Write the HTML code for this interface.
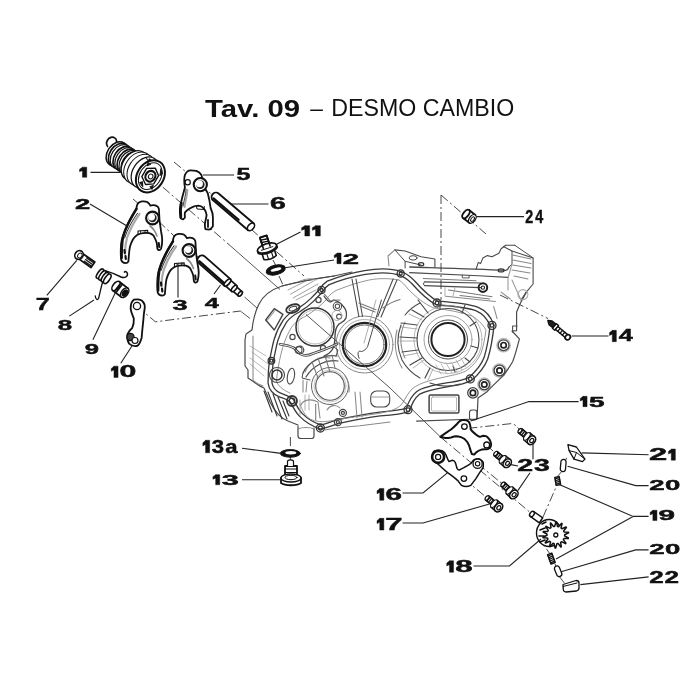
<!DOCTYPE html>
<html><head><meta charset="utf-8"><style>
html,body{margin:0;padding:0;background:#fff;}
svg{display:block;filter:blur(0.35px);}
</style></head><body>
<svg width="700" height="700" viewBox="0 0 700 700">
<rect width="700" height="700" fill="#fff"/>
<g id="crank">
<g fill="none" stroke="#4a4a4a" stroke-width="1.05" stroke-linejoin="round" stroke-linecap="round">
<!-- outer silhouette -->
<path d="M334 276 C315 279 298 282 282 286 C270 290 263 296 259 304 C255 312 253 320 252 330 L246 334 L245 340 L245 366 L248 370 L248 378 L254 382 C258 385 261 387 264 388 L270 402 C274 410 280 418 288 421 L298 425" stroke-width="1.2"/>
<path d="M298 426 L298 436 C298 437.5 299 438.5 301 438.5 L311.5 438.5 C313 438.5 314 437.5 314 436 L314 428" stroke-width="1.2"/>
<path d="M298 429 C302 427 310 427 314 429" stroke="#888"/>
<path d="M253 336 L253 380 C256 383 259 385 263 386" stroke="#888"/>
<path d="M334 276 L352 272"/>
<!-- gasket band -->
<path d="M400.7 273.5 C392 270.5 380 270 365 272.5 C352 274.5 338 279 328 283 C325 285 323 287 321.5 290 C318 294 315 297 312 300 C308 304 304 307 299 310 C293 313 288 317 285 321 C281 327 278 333 276 340 C274 347 273 354 271.4 360.7 C270.5 367 270 375 270 383 C271 389 275 393 280 395 C285 397 289 398 292 401 C294 405 297 411 301 415 C306 420 312 424 320.4 427 C327 426 333 423 338.6 421.4 C350 419 365 416 380 414 C392 413 402 412 408 409.7 C410 403 413 397 418 393 C425 388 440 386 452 384 C460 383 466 381 470.3 378.9 C477 373 483 366 486 358 C489 348 491 336 492 325.4 C489 317 484 312 477 309 C466 305 451 304 437 303 C429 299 421 291 413 282 C409 278 405 275 400.7 273.5 Z" stroke="#3a3a3a" stroke-width="5.2"/>
<path d="M400.7 273.5 C392 270.5 380 270 365 272.5 C352 274.5 338 279 328 283 C325 285 323 287 321.5 290 C318 294 315 297 312 300 C308 304 304 307 299 310 C293 313 288 317 285 321 C281 327 278 333 276 340 C274 347 273 354 271.4 360.7 C270.5 367 270 375 270 383 C271 389 275 393 280 395 C285 397 289 398 292 401 C294 405 297 411 301 415 C306 420 312 424 320.4 427 C327 426 333 423 338.6 421.4 C350 419 365 416 380 414 C392 413 402 412 408 409.7 C410 403 413 397 418 393 C425 388 440 386 452 384 C460 383 466 381 470.3 378.9 C477 373 483 366 486 358 C489 348 491 336 492 325.4 C489 317 484 312 477 309 C466 305 451 304 437 303 C429 299 421 291 413 282 C409 278 405 275 400.7 273.5 Z" stroke="#fff" stroke-width="2.6"/>
<!-- inner flange line -->
<path d="M399 280 C388 278 376 278 365 281 C352 284 343 288 337 290 C331 293 328 297 325 301 C320 306 314 311 306 316 C298 320 293 324 290 330 C286 337 283 345 281 354 C279 362 277 373 276.5 382 C280 388 285 391 290 393 M300 404 C302 410 305 416 310 419 C316 422 323 422 330 421 C345 418 362 416 375 414 C389 412 397 409 401 405 C405 400 407 394 412 389 C420 382 436 379 449 376 C459 374 464 372 466 371 C473 366 478 360 481 353 C484 345 485 336 486 330 C482 323 477 319 472 316 C461 312 448 310 434 308 C424 304 416 297 408 289 C405 285 402 282 399 280" stroke="#888" stroke-width="0.9"/>
<!-- bolt bosses on gasket -->
<g stroke-width="1.3" stroke="#333">
<circle cx="321.5" cy="290" r="3.6"/><circle cx="321.5" cy="290" r="1.5"/>
<circle cx="400.7" cy="273.5" r="3.6"/><circle cx="400.7" cy="273.5" r="1.5"/>
<circle cx="437" cy="303" r="4"/><circle cx="437" cy="303" r="1.8"/>
<circle cx="492" cy="325.4" r="4"/><circle cx="492" cy="325.4" r="1.8"/>
<circle cx="470.3" cy="378.9" r="4"/><circle cx="470.3" cy="378.9" r="1.8"/>
<circle cx="408" cy="409.7" r="4"/><circle cx="408" cy="409.7" r="1.8"/>
<circle cx="320.4" cy="428" r="4"/><circle cx="320.4" cy="428" r="2"/>
<circle cx="292" cy="401" r="5" stroke-width="1.8"/><circle cx="292" cy="401" r="2.8"/>
<circle cx="271.4" cy="360.7" r="3.3"/><circle cx="271.4" cy="360.7" r="1.5"/>
</g>
<!-- right bolt bosses -->
<g stroke-width="1.3" stroke="#444">
<circle cx="503.6" cy="345.2" r="6.6" stroke="#bbb" stroke-width="1.5"/><circle cx="503.6" cy="345.2" r="5.4"/><circle cx="503.6" cy="345.2" r="2.7" stroke="#222" stroke-width="1.7"/>
<circle cx="499.5" cy="370.5" r="6.6" stroke="#bbb" stroke-width="1.5"/><circle cx="499.5" cy="370.5" r="5.4"/><circle cx="499.5" cy="370.5" r="2.7" stroke="#222" stroke-width="1.7"/>
<circle cx="484.3" cy="384.5" r="6.4" stroke="#bbb" stroke-width="1.5"/><circle cx="484.3" cy="384.5" r="5.2"/><circle cx="484.3" cy="384.5" r="2.7" stroke="#222" stroke-width="1.7"/>
<circle cx="472.9" cy="392.9" r="5.2"/><circle cx="472.9" cy="392.9" r="2.7" stroke="#222" stroke-width="1.7"/>
<circle cx="342.9" cy="412.9" r="3.5"/><circle cx="342.9" cy="412.9" r="1.5"/>
<circle cx="337.9" cy="422.1" r="3.5"/><circle cx="337.9" cy="422.1" r="1.5"/>
</g>
<!-- right outer edge -->
<path d="M526.3 292.1 L520 304 L516.6 312 L516.6 330.6 L512 331 L519.4 338.9 C517 348 515 356 512.6 361.7 C509 368 506 372 503.4 375.4 C497 382 492 386 487.4 391.4 L478 398 L477 419 L416.6 421.1" stroke-width="1.2"/>
<path d="M512.6 332 L512.6 326 L517 326" />
<path d="M497.1 318.6 L493.7 306.6 M445.7 296.3 L495.4 301.4" stroke="#888"/>
<!-- upper rail & blocks -->
<path d="M394.9 249.9 L405.1 251 L421.1 256.7 L434.9 259 L434.9 267" stroke-width="1.1"/>
<path d="M394.9 249.9 L405.1 261.3 L405.1 268 M405.1 261.3 L421 265" stroke-width="1"/>
<path d="M394.9 249.9 L388 256 L389 266" stroke="#888"/>
<ellipse cx="413.1" cy="257.9" rx="4" ry="2.2" stroke-width="1"/>
<ellipse cx="421.1" cy="264.2" rx="2.6" ry="1.6" stroke="#333" stroke-width="1.3"/>
<path d="M409.7 267 C440 268 475 269 505.7 270.4 C507.5 270 508.5 268.5 509 267" stroke-width="1.3"/>
<path d="M409.7 272.7 C440 274 475 275.5 508 277.3" stroke-width="1.2"/>
<path d="M462.3 275 L462.3 277.8 L469.1 278 L469.1 275.5" stroke-width="0.9"/>
<ellipse cx="501.1" cy="270.4" rx="3" ry="1.5" stroke="#333" stroke-width="1.2"/>
<path d="M476 269.3 L478.3 262.4 L480.6 263.6 L482.9 257.9 L487.4 255.6 L492 256.7 L498.9 253.3 L501.1 248.7 L505.7 245.3 L514.9 245.3" stroke-width="1.1"/>
<path d="M503.4 246.4 L512 251 L533.1 257.9 L533.1 284 L526.3 292.1 L521 300" stroke-width="1.1"/>
<path d="M514.9 245.3 L533.1 257.9" stroke-width="1"/>
<path d="M512 251 L512 264 L509 267" stroke-width="1"/>
<path d="M512.6 255 L531 259 M512.6 260.1 L531 263.6 M512.6 265 L531 268 M512 270 L530 273 M514 276 L528 279" stroke="#888"/>
<path d="M512 264 L508 278 L508 290 M512 280 L521 300" stroke="#999"/>
<circle cx="522.9" cy="294.6" r="5" stroke="#aaa"/>
<!-- pipe along rail -->
<path d="M423.4 278.4 L476 280.7" stroke="#777"/>
<path d="M424.6 281.9 L480.6 283 M424.6 285.6 L480.6 287.6" stroke-width="1.2"/>
<path d="M424.6 281.9 C423 283 423 285 424.6 285.6" stroke-width="1"/>
<circle cx="482.9" cy="287.6" r="4.3" stroke="#222" stroke-width="2"/><circle cx="482.9" cy="287.6" r="1.7" stroke="#222"/>
<path d="M448.6 289.9 L492 296.7 M460 295.6 L489.7 299" stroke="#777"/>
<path d="M501.1 292.1 L510.3 299" stroke="#888"/>
<path d="M445 287 L445 296 M455 288 L453 296" stroke="#999" stroke-width="0.8"/>
<!-- left bore -->
<circle cx="315" cy="327" r="19" stroke-width="1.5" stroke="#333"/>
<circle cx="315" cy="327" r="17" stroke-width="0.7" stroke="#999"/>
<path d="M324 296 C326 299 327 301 330 302 C332 302 333 300 334 300 C337 301 341 303 343 306 C346 309 347 314 346 318 C345 321 342 322 339 324 C336 327 335 332 335 336 C335 342 334 347 332 350 C330 353 327 355 324 356" stroke-width="1.3" stroke="#444"/>
<circle cx="300" cy="350" r="3.8" stroke-width="1.2"/>
<circle cx="292.5" cy="337" r="2.6" stroke-width="1.2"/><circle cx="318.5" cy="300" r="2.6" stroke-width="1.2"/><circle cx="323" cy="348" r="2.6" stroke-width="1.2"/>
<circle cx="337.4" cy="306.3" r="4.2"/><circle cx="337.4" cy="306.3" r="2.2"/><circle cx="339.1" cy="316.6" r="2.5"/>
<circle cx="336.9" cy="315.4" r="5" stroke="#999" stroke-width="0.8"/>
<path d="M324.6 294.3 C328 298 331 302 329.7 301.1 C333 300 336 300 340 300" stroke="#777"/>
<ellipse cx="292.9" cy="308.6" rx="7" ry="4" transform="rotate(-20 292.9 308.6)" stroke-width="1.8" stroke="#333"/>
<ellipse cx="292.9" cy="308.6" rx="4" ry="2" transform="rotate(-20 292.9 308.6)"/>
<!-- window left -->
<path d="M265.7 320 L274.3 308.6 L282.9 314.3 L274.3 330 Z" stroke-width="1.4" stroke="#444"/>
<path d="M267.5 320 L275 310.5" stroke="#999"/>
<!-- middle bearing -->
<circle cx="364.5" cy="344.5" r="28.5" stroke-width="1" stroke="#888"/>
<circle cx="364.5" cy="344.5" r="25" stroke-width="0.8" stroke="#999"/>
<circle cx="364.5" cy="344.5" r="21.7" stroke-width="2.2" stroke="#222"/>
<circle cx="364.5" cy="344.5" r="19.5" stroke-width="0.8"/>
<path d="M381.4 300 L367.7 346.3 C366 350 362 352 360.9 351.4 C358 350 357 354 359.1 358.3" stroke-width="1"/>
<path d="M376 300 L364 343" stroke="#999" stroke-width="0.8"/>
<!-- ribs between -->
<path d="M352 279 L358.9 316.6 M356 279 L362.5 316.5" stroke-width="1.1"/>
<path d="M393.1 279 L377.7 316.6 M397 280 L381 317" stroke-width="1.1"/>
<path d="M358.9 302.9 L376 309.7 M360 306 L375 312" stroke="#777"/>
<path d="M382.9 308 C388 304 394 301 400 299.4" stroke="#777"/>
<!-- big bearing -->
<circle cx="448" cy="339.5" r="16.6" stroke-width="2" stroke="#222"/>
<circle cx="448" cy="339.5" r="19.5" stroke-width="1"/>
<circle cx="448" cy="339.5" r="24" stroke-width="0.8" stroke="#888"/>
<circle cx="448" cy="339.5" r="31" stroke-width="1.1"/>
<circle cx="448" cy="339.5" r="34" stroke-width="0.7" stroke="#999"/>
<path d="M405 315 A46 46 0 0 1 420 303 M401 325 A46 46 0 0 0 402 360 A46 46 0 0 0 420 378 M430 383 A46 46 0 0 0 460 384" stroke-width="1.1"/>
<path d="M405 322 A43 43 0 0 0 405 358 M397 330 A52 52 0 0 0 402 368" stroke="#888"/>
<path d="M401 323 L417 325 M400 337 L417 338 M402 352 L418 350 M410 365 L422 358 M425 378 L430 368 M412 310 L424 317 M418 300 L428 313" stroke-width="1.2"/>
<path d="M401 327 L417 329 M400 341 L417 341 M403 356 L418 353 M413 368 L424 360 M428 380 L433 369 M409 314 L422 320" stroke="#999" stroke-width="0.8"/>
<path d="M440 300 L440 309 M465 305 L462 313 M476 322 L470 326 M478 348 L471 346 M470 362 L465 358 M455 372 L453 366" stroke-width="1.1"/>
<path d="M441 364 L447 374 M446 363 L452 373 M451 362 L457 372 M456 360 L462 370 M461 358 L466 367 M436 365 L441 374" stroke="#aaa" stroke-width="0.8"/>
<!-- lower left bore -->
<circle cx="330" cy="386" r="18.5" stroke-width="1" stroke="#666"/>
<circle cx="330" cy="386" r="14.3" stroke-width="1.1" stroke="#555"/>
<circle cx="330" cy="386" r="16" stroke-width="0.7" stroke="#aaa"/>
<path d="M305 372 C310 360 320 356 330 358 M345 376 C348 380 350 385 349 392" stroke="#888"/>
<circle cx="277" cy="375" r="5" stroke-width="1.5" stroke="#333"/><circle cx="277" cy="375" r="7.5" stroke-width="1.1"/>
<ellipse cx="291" cy="376" rx="3.5" ry="8" stroke-width="1.1" transform="rotate(10 290 375.7)"/>
<!-- detent mechanism -->
<path d="M280 344.3 C285 345 290 346 294 348 C297 351 299 354 303 355 C307 356 310 355 313 353.5 C318 352 323 350 328 348 C332 346.5 335 345 337 344" stroke-width="2.6" stroke="#444"/>
<path d="M280 344.3 C285 345 290 346 294 348 C297 351 299 354 303 355 C307 356 310 355 313 353.5 C318 352 323 350 328 348 C332 346.5 335 345 337 344" stroke-width="0.9" stroke="#fff"/>
<circle cx="298.6" cy="350" r="3.4" stroke-width="1.1"/>
<path d="M303 373 C305 368 310 363 316 360 C322 357 330 355 337 356 M306 377 C309 372 314 367 320 364 C326 361 332 360 338 361" stroke-width="1.2"/>
<path d="M312 362 L318 378 M318 358 L324 376 M325 356 L330 372 M332 355 L335 368" stroke="#777"/>
<path d="M303 373 L302 378 L310 380 M336 356 L338 350 L334 347" stroke-width="1"/>
<path d="M303 380 L303 392 M307 381 L306 392" stroke="#888"/>
<path d="M305 395 L305 410 M309 395 L309 410 M300 400 L300 415" stroke="#999" stroke-width="0.8"/>
<path d="M301 405 C303 400 310 398 318 402 L320 418" stroke="#888"/>
<rect x="370.7" y="391" width="19" height="16" rx="6" stroke-width="1.1"/>
<path d="M372 397 L389 397" stroke="#999"/>
<path d="M355 392 L357 418 M360 392 L362 417" stroke="#888"/>
<path d="M315.7 404.3 L315.7 420" stroke="#777"/>
<path d="M327 410 C330 405 336 404 340 408" stroke="#888"/>
<!-- hatching lower-left -->
<path d="M264 391 L272 412 M268 392 L277 416 M273 394 L282 419 M278 397 L287 419 M283 401 L289 416" stroke="#333" stroke-width="1.1"/>
<path d="M252 352 L268 364 M250 358 L266 370 M250 364 L264 376 M250 346 L266 356" stroke="#999" stroke-width="0.7"/>

<!-- rectangle window lower right -->
<rect x="429.1" y="394.9" width="29.8" height="18.2" rx="1.5" stroke-width="1.5" stroke="#444"/>
<rect x="431.5" y="397" width="25" height="14" rx="1" stroke="#999" stroke-width="0.7"/>
<rect x="469.5" y="410" width="7.5" height="10" rx="2.5" stroke-width="1.1"/>
<!-- bottom edge -->
<path d="M324.3 430 C335 428 345 427 360 425.7 L390 422" stroke="#888"/>
<!-- top left fins -->
<path d="M282 286 C300 281 318 278 334 276" stroke-width="1.1"/>
<path d="M290.3 294.3 L314.3 280.6 M293 298 L318 284 M288 290 L306 281 M296 300 L316 290" stroke="#888" stroke-width="0.8"/>
<path d="M300 281 C305 279 312 278 316 280" stroke="#999"/>
</g>

</g>
<g id="dash" fill="none" stroke="#333" stroke-width="0.9" stroke-dasharray="9 3 2 3">
<path d="
M441 195 V300
M441 195 L486 234
M137 306.3 L155.4 321.8 L240.4 311
M174 162 L186 172 M200 184 L304 276
M150 176 L230 245.5
M133 199 L154 217 L189 250 L201 259
M290.4 437 V449 M290.4 457 V461
M500 295 L548 318.5
M468.4 428.3 L511.4 423.6 Q515.7 424 520 430.7
M486.7 444.9 L496 454
M477.6 463.7 L503 484.3
M463.9 478.6 L487 497.9
M440.4 436.9 L532 514
M543 517 L557 485
M546.4 548.8 L550 554
M557 477 L563 470
M563 466 L568 455
M555 564 L557 568
M559 576 L565 584
M273 260 L276 266 M279 276 L283 285
"/>
</g>
<g id="parts">
<g fill="#fff" stroke="#111" stroke-width="1.8" stroke-linejoin="round" stroke-linecap="round">
<!-- PART 1 drum -->
<g transform="translate(150,176) rotate(33.7)">
  <ellipse cx="-50.5" cy="-6.5" rx="4.8" ry="5.6" stroke-width="1.7"/>
  <path d="M-51 -2 L-40 -4 L-40 4 L-51 2 Z" stroke="none"/>
  <ellipse cx="-40" cy="0" rx="9.4" ry="13" stroke-width="1.5"/>
  <ellipse cx="-37.5" cy="0" rx="9.2" ry="12.8" stroke-width="1.7"/>
  <ellipse cx="-35" cy="0" rx="9.4" ry="13" stroke-width="1.2"/>
  <ellipse cx="-32" cy="0" rx="9.2" ry="12.8" stroke-width="1.7"/>
  <ellipse cx="-29.5" cy="0" rx="9.4" ry="13" stroke-width="1.2"/>
  <ellipse cx="-27" cy="0" rx="9.2" ry="12.8" stroke-width="1.7"/>
  <ellipse cx="-24.5" cy="0" rx="9.4" ry="13" stroke-width="1.2"/>
  <ellipse cx="-22" cy="0" rx="9.2" ry="12.8" stroke-width="1.7"/>
  <ellipse cx="-19" cy="0" rx="11.5" ry="16" stroke-width="1.4"/>
  <ellipse cx="-15" cy="0" rx="12.2" ry="17" stroke-width="1.0"/>
  <ellipse cx="-11" cy="0" rx="12.2" ry="17" stroke-width="1.0"/>
  <ellipse cx="-6" cy="0" rx="12.2" ry="17" stroke-width="1.2"/>
  <path d="M-13 -13 l2 1 m1 -2 l0 5 m2 -5 l0 5 M-9 -14 l0 4" stroke-width="1" fill="none"/>
  <ellipse cx="0.5" cy="0" rx="13.2" ry="17.2" stroke-width="2"/>
  <ellipse cx="0.3" cy="0" rx="10.5" ry="14.5" stroke-width="1"/>
  <path d="M0 -9.5 L7 -5 L7.5 4.5 L1 9.5 L-6.5 5 L-7 -4.5 Z" stroke-width="1.4"/>
  <ellipse cx="0.5" cy="0" rx="4.8" ry="5.5" stroke-width="2.2"/>
  <ellipse cx="0.8" cy="0" rx="2.2" ry="2.5" stroke-width="1"/>
  <path d="M5 -12 L9 -9 L8 -6 Z M-5 11 L0 13 L-3 9 Z M6 9 L9 10 L8 6 Z M-8 -7 L-9 -10 L-6 -10 Z" fill="#222" stroke-width="1"/>
</g>
<!-- FORK 2 -->
<g id="fork2">
<path d="M125.7 263.1 C123.5 263 122 262.5 121.2 260 C120.7 256 120.7 250 121 245.4 C121.5 240 122.3 237 123.6 234.7 C125 230 126.5 227 127.9 224 C129.8 220 131.5 217 133.2 214.3 C134.5 212 135.5 210.5 136.4 208.9 C136.5 206.5 137 205 137.5 204.1 C138.5 202.5 140 201.6 141.8 201.4 C144 201.2 146 201.4 147.2 202 C148.5 202.8 149.6 204 150.4 205.7 C151.5 205.3 152.5 205.1 153.6 205.2 C155.5 205.4 157 206 157.9 206.8 C158.8 208 159.2 209.5 159 211.1 L159.5 220 C160 224 160.6 228 161.1 231.5 C161.8 235 162.2 237.5 162.2 240 C162.2 243 161.8 246 161.1 248.6 C160.5 249.8 159.8 250.3 159 250.2 C158.2 250 157.7 249.4 157.4 248.6 C157.1 246.5 157 244.8 156.8 243.2 C156.5 242 156.1 241 155.7 240 C155 238.3 154.3 236.8 153.6 235.7 C152.3 234.3 150.8 233.5 149.3 233.1 C147 232.8 145 232.8 142.9 233.1 C141 233.4 139.2 233.9 137.5 234.7 C135.8 235.8 134.3 237.3 133.2 239 C131.8 241.3 130.8 243.8 130 246.5 C129.4 249.5 129.1 252.3 128.9 255 C128.7 257.5 128.6 259.5 128.4 261.5 C127.7 262.6 126.8 263.1 125.7 263.1 Z"/>
<path d="M136.4 208.9 C134.5 212 132 216 129.5 221 C127 226 124.5 231 123.3 236 C122 241 121.5 248 121.6 258" fill="none" stroke-width="2.6"/>
<path d="M139.5 214 C134.5 221 130 229 127 238 C125.5 243 125 249 125 254" fill="none" stroke-width="2.2" stroke="#aaa"/>
<path d="M137.5 213.2 C132 221 127.5 229 124.6 237.9" fill="none" stroke-width="0.9"/>
<path d="M150 226 C153 228 155.5 232 157 236" fill="none" stroke-width="1.6" stroke="#888"/>
<path d="M138 234.4 L138 231 L147.7 230.4 L147.7 233.3" fill="none" stroke-width="1.1"/>
<path d="M140.5 231 L140.5 233.6 M145 230.8 L145 233.2" fill="none" stroke-width="0.8"/>
<circle cx="152.5" cy="218" r="6.4" stroke-width="2.1"/>
<circle cx="152.5" cy="218" r="4.2" fill="#222" stroke="none"/>
<circle cx="151.6" cy="217.1" r="3.4" fill="#fff" stroke="none"/>
<path d="M124.5 250 L124.8 253 M125.5 256 L125.8 259" stroke-width="2.2" fill="none"/>
<path d="M158.8 243 L159.2 247" stroke-width="2" fill="none"/>
</g>
<!-- FORK 3 -->
<use href="#fork2" transform="translate(36.5,32.5)"/>
<!-- FORK 5 -->
<path d="M183.1 219.4 C181 219 180 218 180.3 217.1 C179.6 212 179.5 206 181.4 201.1 C182.5 196 184 191 184.9 187.4 C184 182 184 178 184.9 174.9 C186.5 171.5 188 170.3 190.5 170.3 C193 170.3 195 170.6 196.3 170.9 C199 172 200.5 173.5 201.4 174.9 L204.9 188.6 C206 190 207 191.5 207.7 193.1 C209 198 210 203 210.6 208 C212 211 213 214 212.9 217.1 L212.9 226.3 C211.5 228.5 210.2 229.6 208.9 229.7 L205.4 229.1 C204.8 227 204.9 225.5 204.9 224 C205.5 220 206.5 217 206.6 214.9 C206 212 205.3 210.2 204.3 209.1 C202.5 207 200.5 205.8 198.6 205.7 C196.5 205.8 194.5 206 192.9 206.9 C190.5 208 188.5 209.2 187.1 210.3 C186 211.5 185.2 212 184.9 212.6 C184.6 214.5 184.9 216 184.9 217.7 Z"/>
<path d="M187.5 190 C187 196 185.5 201 184.5 207" fill="none" stroke-width="2" stroke="#aaa"/>
<path d="M186 189 C186 195 184 200 183 206" fill="none" stroke-width="0.8"/>
<path d="M181.5 203 C180.5 208 180.5 213 181 217" fill="none" stroke-width="2.4"/>
<path d="M196.3 205.7 L197 209 L204 209.5 L204.3 206.5" fill="none" stroke-width="1"/>
<circle cx="187.7" cy="182.3" r="2.6" stroke-width="1.2"/>
<circle cx="200.3" cy="184.6" r="6.6" stroke-width="2.1"/>
<circle cx="200.3" cy="184.6" r="4.3" fill="#222" stroke="none"/>
<circle cx="199.4" cy="183.7" r="3.5" fill="#fff" stroke="none"/>
<path d="M208 220 L208 227" stroke-width="1.8" fill="none"/>
<!-- PART 6 pin -->
<g transform="translate(216,197) rotate(40.5)">
  <path d="M0 -4.4 L46 -4.4 L46 4.4 L0 4.4 A4.4 4.4 0 0 1 0 -4.4 Z" stroke-width="1.9"/>
  <ellipse cx="46" cy="0" rx="2.8" ry="4.4" stroke-width="1.6"/>
  <path d="M-1 2.6 L32 2.6" stroke-width="2.2" fill="none"/>
</g>
<!-- PART 4 pin -->
<g transform="translate(202,260) rotate(41.5)">
  <path d="M0 -4.5 L34 -4.5 L34 4.5 L0 4.5 A4.5 4.5 0 0 1 0 -4.5 Z" stroke-width="1.9"/>
  <path d="M-1 2.7 L32 2.7" stroke-width="2.4" fill="none"/>
  <path d="M34 -3.8 L43 -3.8 L43 3.8 L34 3.8" stroke-width="1.7"/>
  <ellipse cx="34" cy="0" rx="2" ry="4.5" stroke-width="1.7"/>
  <path d="M43 -2.8 L51 -2.8 L51 2.8 L43 2.8" stroke-width="1.6"/>
  <ellipse cx="43" cy="0" rx="1.8" ry="3.8" stroke-width="1.6"/>
  <ellipse cx="51" cy="0" rx="1.6" ry="2.8" stroke-width="1.6"/>
</g>
<!-- PART 7 bolt -->
<g transform="translate(79,255) rotate(35)">
  <path d="M2 -3.3 L17 -3.3 L17 3.3 L2 3.3 Z"/>
  <path d="M8 -2 L16 -2 M8 0 L16 0 M8 2 L16 2" stroke-width="1.3" fill="none"/>
  <ellipse cx="0" cy="0" rx="4" ry="4.6" stroke-width="1.6"/>
  <ellipse cx="1" cy="0" rx="2" ry="2.6" stroke-width="1"/>
</g>
<!-- PART 8 spring -->
<path d="M105 270.6 C110 272 117 275 121 277 C125 278.5 128 276 127.5 273.8 C127 271.5 125 271 124.4 272.2" fill="none" stroke-width="1.5"/>
<path d="M103 281 C101 287 100 293 98.5 298.5 C97.5 300.5 95.5 299.5 95.3 296" fill="none" stroke-width="1.3"/>
<g transform="translate(103.2,276) rotate(35)">
  <ellipse cx="-4" cy="0" rx="2.2" ry="5.5" stroke-width="1.6"/>
  <ellipse cx="-1" cy="0" rx="2.2" ry="5.5" stroke-width="1.6"/>
  <ellipse cx="2" cy="0" rx="2.2" ry="5.5" stroke-width="1.6"/>
  <ellipse cx="5" cy="0" rx="2.4" ry="5.5" stroke-width="1.6"/>
</g>
<!-- PART 9 roller -->
<g transform="translate(116,286) rotate(38)">
  <path d="M0 -5.5 L11 -5.5 L11 5.5 L0 5.5 Z"/>
  <ellipse cx="0" cy="0" rx="3" ry="5.5" stroke-width="1.6"/>
  <path d="M2 -5 L2 5 M4 -5.3 L4 5.3" stroke-width="1.6" fill="none"/>
  <ellipse cx="11" cy="0" rx="3.2" ry="5.5" stroke-width="1.5"/>
  <ellipse cx="11.3" cy="0" rx="1.8" ry="3.2" fill="#111"/>
</g>
<!-- PART 10 lever -->
<path d="M133.8 299.7 C137 299 140 299.5 141.7 300.5 C144 302.5 145 305 144.8 307.5 C144 312 143.5 317 143.2 321.7 C142.5 328 142 333 141.7 337.4 C140.5 342 139 345 137 346 C134 346.5 131 345.5 129.1 343.7 C127.5 341 126.8 337.5 127.5 334.2 C129 331 131 329 132.2 328 C133.5 325 134 321 133.8 318.5 C132.5 315 131 312 130.7 309.1 C130.5 305 131.5 301.5 133.8 299.7 Z"/>
<circle cx="137" cy="306" r="3.6" stroke-width="1.3"/>
<circle cx="130.5" cy="337" r="3.6" fill="#444" stroke-width="1.2"/>
<circle cx="135" cy="340.5" r="3" stroke-width="1.2"/>
<!-- PART 11 bolt -->
<g transform="translate(267,248) rotate(-18)">
  <path d="M-3.6 -12 L3.6 -12 L3.6 -1 L-3.6 -1 Z"/>
  <path d="M-3.6 -9.5 L3.6 -8.5 M-3.6 -7 L3.6 -6 M-3.6 -4.5 L3.6 -3.5" stroke-width="1.4" fill="none"/>
  <path d="M-6.5 2 L-6.5 10 C-3 12 3 12 6.5 10 L6.5 2 Z" stroke-width="1.6"/>
  <path d="M-2 4 L-2 11 M3 4 L3 11" stroke-width="1.1" fill="none"/>
  <path d="M-10 0 L-10 2.5 C-6 6 6 6 10 2.5 L10 0" stroke-width="1.6"/>
  <ellipse cx="0" cy="0" rx="10" ry="4.2" stroke-width="1.7"/>
  <path d="M-6 0.5 L6 0.5" stroke-width="1" fill="none"/>
  <path d="M-3.6 -1 L-3.6 -12 L3.6 -12 L3.6 -1" stroke-width="1.6" fill="none"/>
</g>
<!-- PART 12 washer -->
<ellipse cx="275.7" cy="269.9" rx="9.8" ry="4.8" fill="#111" stroke-width="1" transform="rotate(-14 275.7 269.9)"/>
<ellipse cx="276" cy="269.5" rx="5.5" ry="1.6" fill="#fff" stroke="none" transform="rotate(-14 276 269.5)"/>
<!-- PART 24 dowel -->
<g transform="translate(466,214) rotate(38)">
  <path d="M0 -5 L8 -5 L8 5 L0 5 Z"/>
  <ellipse cx="0" cy="0" rx="2.6" ry="5" />
  <ellipse cx="8" cy="0" rx="3" ry="5" stroke-width="1.3"/>
  <ellipse cx="8.3" cy="0" rx="1.4" ry="2.6" stroke-width="1"/>
</g>
<!-- PART 14 screw -->
<g transform="translate(549,321.5) rotate(40)">
  <path d="M-1.5 0 L2 -2.4 L7 -2.4 L7 2.4 L2 2.4 Z" fill="#222" stroke-width="1.4"/>
  <path d="M7 -3 L10 -3 L10 3 L7 3 Z" stroke-width="1.4"/>
  <path d="M10 -1.9 L23.5 -1.9 L23.5 1.9 L10 1.9 Z" stroke-width="1.4"/>
  <path d="M13 -1.9 L13 1.9 M16 -1.9 L16 1.9 M19 -1.9 L19 1.9" stroke-width="1.3" fill="none"/>
  <ellipse cx="24.5" cy="0" rx="2.4" ry="2.8" stroke-width="1.8"/>
</g>
<!-- PART 13a washer -->
<ellipse cx="290.3" cy="453.4" rx="10" ry="3.8" fill="#111" stroke-width="1"/>
<ellipse cx="290.8" cy="452.8" rx="5.5" ry="1.7" fill="#fff" stroke="none"/>
<!-- PART 13 bolt -->
<g>
  <path d="M285 466 L285 478 L297 478 L297 466 Z"/>
  <path d="M285 469 L297 469 M285 472.5 L297 472.5" stroke-width="1.1" fill="none"/>
  <path d="M287.5 466 L287.5 461 C289 459.5 292 459.5 293.5 461 L293.5 466" stroke-width="1.2"/>
  <path d="M281 478 L281 483 C285 486 297 486 301 483 L301 478 Z"/>
  <ellipse cx="291" cy="478" rx="10" ry="4" stroke-width="1.4"/>
  <ellipse cx="291" cy="477.5" rx="6" ry="2.2" stroke-width="1"/>
</g>
</g>
<g fill="#fff" stroke="#111" stroke-width="1.5" stroke-linejoin="round" stroke-linecap="round">
<!-- PLATE 15 -->
<path stroke-width="2" d="M440.4 436.9 C444 434 448 431.7 451 429.5 C454 427 456.5 425 458.1 422.6 C459.5 421 460.5 420.3 462.5 420.1 C465 419.9 467.3 420.3 468.5 421.5 C470 423 470.5 426 470.7 429.4 C472 431.5 474 433 475.3 434 C477 435.5 478.5 436.5 479.9 436.9 L483.3 435.7 C485 435.7 486.5 436 487.3 436.9 C489 438.5 490.3 440 490.7 442 C491.2 444 491.2 446 490.7 446.6 C489.8 448 488.8 448.7 487.9 448.9 C485.5 449.2 484 449.2 482.1 449.4 C479.5 450.3 477.5 451.3 476.4 452.3 C475.3 453.3 474.7 454.2 474.1 454.6 L471.9 454 C471 452 470.6 450.5 470.1 448.9 C469.5 446 468.5 444 467.3 442 C465.5 439.5 463.5 438 461.6 437.4 C459.5 436.7 457.5 436.3 455.9 436.3 C454 436.4 452.5 437 451.3 437.4 C449 437.8 447 438 445.6 438 Z"/>
<circle cx="464.4" cy="426.6" r="2.8" stroke-width="1.3"/>
<circle cx="486.7" cy="444.9" r="2.9" stroke-width="1.3"/>
<!-- PLATE 16 -->
<path d="M434.1 451.1 C437 450 440 450 442.1 450.6 C444 451.5 445.5 453 446.1 455.1 C447 457.5 447.8 460 449 461.4 C450 461.5 451.2 460.5 452.4 460.3 C454 460.5 455 461.5 455.3 462.6 C456 464.5 456.5 466.5 457 468.3 C457.7 469.5 458.5 470.2 459.3 470 C461 469.3 462.5 468.5 463.9 467.7 C466 466.3 468.5 465 470.7 463.7 C472 462 473 460.5 474.1 459.7 C476 458.8 478 458.7 479.9 459.1 C481.5 460 482.8 461.3 483.3 462.6 L483.3 467.1 C482.5 468.5 481.8 469.7 481 470.6 C479 473.5 477.5 476 475.9 478.6 C474 481 472.5 483.5 470.7 485.4 C469 486.3 467.5 486.6 466.1 486.6 C464.5 486.6 463 486.2 461.6 485.4 C460.3 484 459 482.5 458.1 480.9 C455 478 451.5 475.5 447.9 472.9 C444.5 470 441 467 437.6 463.7 C435.5 462.5 434 461.5 433 460.3 C432.3 458.5 432.2 456.5 432.4 454.6 C432.8 453 433.3 452 434.1 451.1 Z"/>
<circle cx="438.1" cy="456.9" r="6" stroke-width="2.6"/>
<circle cx="438.1" cy="456.9" r="2.6" stroke-width="1.2"/>
<circle cx="477.6" cy="463.7" r="4.6" stroke-width="1.3"/>
<circle cx="477.6" cy="463.7" r="2.2" stroke-width="1.1"/>
<circle cx="463.9" cy="478.6" r="2.8" stroke-width="1.3"/>
<!-- BOLTS 23 & 17: socket-head screws; local frame: x along axis from thread end to head -->
<defs><g id="bolt23">
  <path d="M0 -2.6 L9 -2.6 L9 2.6 L0 2.6 Z"/>
  <path d="M2 -2.6 L2 2.6 M4 -2.6 L4 2.6 M6 -2.6 L6 2.6" stroke-width="1.2" fill="none"/>
  <ellipse cx="0" cy="0" rx="1.5" ry="2.6" stroke-width="1.3"/>
  <path d="M9 -4.6 L15 -4.6 L15 4.6 L9 4.6 Z"/>
  <ellipse cx="9" cy="0" rx="2.2" ry="4.6" stroke-width="1.2"/>
  <ellipse cx="15" cy="0" rx="3.6" ry="4.8" stroke-width="1.6"/>
  <ellipse cx="15.3" cy="0" rx="1.7" ry="2.3" stroke-width="1.2"/>
</g></defs>
</g>
<g fill="#fff" stroke="#111" stroke-width="1.5" stroke-linejoin="round" stroke-linecap="round">
<use href="#bolt23" transform="translate(520,430.7) rotate(39.7)"/>
<use href="#bolt23" transform="translate(495.7,453.6) rotate(39.7)"/>
<use href="#bolt23" transform="translate(502.9,484.3) rotate(43)"/>
<use href="#bolt23" transform="translate(487.1,497.9) rotate(40)"/>
<!-- GEAR 18 -->
<g transform="translate(532,514) rotate(35)">
  <path d="M0 -3 L11 -3 L11 3 L0 3 Z"/>
  <ellipse cx="0" cy="0" rx="2" ry="3"/>
</g>
<ellipse cx="549" cy="533" rx="12.5" ry="13.5" stroke-width="1.4"/>
<path d="M542 524 L546 522 M540 530 L545 528 M539 536 L544 536 M540 542 L545 540" stroke-width="1.6" fill="none"/>
<path d="M564.6 535.9 L568.4 538.0 L568.3 538.6 L563.9 538.5 L563.6 539.1 L563.3 539.6 L565.9 543.2 L565.5 543.7 L561.5 541.7 L561.1 542.1 L560.6 542.4 L561.3 546.8 L560.8 547.0 L558.1 543.5 L557.5 543.6 L556.9 543.7 L555.7 548.0 L555.1 548.0 L554.1 543.6 L553.6 543.5 L553.0 543.3 L550.0 546.7 L549.5 546.4 L550.6 542.1 L550.1 541.7 L549.7 541.3 L545.6 543.0 L545.2 542.5 L548.0 539.1 L547.8 538.6 L547.5 538.0 L543.1 537.8 L543.0 537.2 L547.0 535.3 L547.0 534.7 L547.0 534.1 L543.2 532.0 L543.3 531.4 L547.7 531.5 L548.0 530.9 L548.3 530.4 L545.7 526.8 L546.1 526.3 L550.1 528.3 L550.5 527.9 L551.0 527.6 L550.3 523.2 L550.8 523.0 L553.5 526.5 L554.1 526.4 L554.7 526.3 L555.9 522.0 L556.5 522.0 L557.5 526.4 L558.0 526.5 L558.6 526.7 L561.6 523.3 L562.1 523.6 L561.0 527.9 L561.5 528.3 L561.9 528.7 L566.0 527.0 L566.4 527.5 L563.6 530.9 L563.8 531.4 L564.1 532.0 L568.5 532.2 L568.6 532.8 L564.6 534.7 L564.6 535.3 Z" stroke-width="1.5"/>
<circle cx="555.8" cy="535" r="2" stroke-width="1.3"/>
<!-- SPRINGS 19 -->
<g transform="translate(557,477) rotate(80)">
  <path d="M0 -2.2 L8 -2.2 L8 2.2 L0 2.2 Z" fill="#fff"/>
  <path d="M1 -2.2 L1.6 2.2 M2.8 -2.2 L3.4 2.2 M4.6 -2.2 L5.2 2.2 M6.4 -2.2 L7 2.2" stroke-width="1.2" fill="none"/>
</g>
<g transform="translate(549.7,553.9) rotate(70)">
  <path d="M0 -2.2 L10 -2.2 L10 2.2 L0 2.2 Z" fill="#fff"/>
  <path d="M1 -2.2 L1.6 2.2 M2.8 -2.2 L3.4 2.2 M4.6 -2.2 L5.2 2.2 M6.4 -2.2 L7 2.2 M8.2 -2.2 L8.8 2.2" stroke-width="1.2" fill="none"/>
</g>
<!-- PINS 20 -->
<g transform="translate(563.5,462) rotate(95)">
  <path d="M0 -2.6 L7 -2.6 A2.6 2.6 0 0 1 7 2.6 L0 2.6 A2.6 2.6 0 0 1 0 -2.6 Z" stroke-width="1.3"/>
</g>
<g transform="translate(557,568.5) rotate(68)">
  <path d="M0 -2.6 L6 -2.6 A2.6 2.6 0 0 1 6 2.6 L0 2.6 A2.6 2.6 0 0 1 0 -2.6 Z" stroke-width="1.3"/>
</g>
<!-- PLATE 21 -->
<path d="M567.9 444.6 L576.4 447 L584.9 459.1 L582.5 461.6 L574 459.1 L569.1 450.6 Z" stroke-width="1.3"/>
<path d="M569.1 450.6 L576.5 452.5 L584.9 459.1 M576.5 452.5 L574 459.1" stroke-width="1" fill="none"/>
<!-- PLATE 22 -->
<path d="M563 584.5 L576 580.5 C578 580.5 579 581.5 579 583 L579 588 C579 589.5 578 590.5 576.5 591 L566 592 C564.5 592 563.5 591 563.3 589.5 Z" stroke-width="1.3"/>
<path d="M563 586.5 L577 583" stroke-width="1" fill="none"/>
</g>

</g>
<g fill="none" stroke="#444" stroke-width="0.9"><path d="M230 245.5 L280 289.5 M306 314.5 L390 388 L440.4 436.9 M244.5 297 L257 308 M240.4 311 L250 318.5"/></g>
<g id="leaders" fill="none" stroke="#222" stroke-width="1.1">
<path d="
M90.5 172.4 H121
M90 204 L127 226
M203 175 H234
M231 204 H268.5
M277 244 L300.5 232
M285 267.7 L334 260
M476.4 216.6 H524
M178 263 V297.5
M214 294 L220.5 285
M46.8 295.3 L76.8 260.4
M69.3 316.1 L94 300
M92.9 339.7 L115.4 292.5
M120.8 363.3 L132.6 345
M571.8 336 H608.5
M470.5 421 L529 401.6 H578.6
M242 448.2 L281 453.4
M242 479.8 H281
M581.7 452.9 L648.6 454.7
M567.6 466.3 L635.7 485.6 H648.6
M558.6 484.3 L633.1 516.4 H648.6 M633.1 516.4 L556 558.9
M561.1 571.7 L635.7 549.9 H648.6
M580.4 584.6 L648.6 576.9
M402.6 493 H423 L447.4 472.8
M402.6 523 H423 L489.4 504
M473.5 566 H509.5 L541 539
M533 459.2 V443 M518 466 L511 464.6 M530 472.8 L518 490.4
"/>
</g>
<g id="labels" font-family="Liberation Sans, sans-serif" font-weight="bold" fill="#111" stroke="#111" stroke-width="0.45">
<path d="M82.43 167.15 L86.75 167.15 L86.75 177.25 L82.43 177.25 Z M82.73 167.15 L82.73 170.38 L79.55 171.69 L79.55 169.17 Z"/>
<text transform="translate(74.99,209.01) scale(1.977,1)" font-size="13.80">2</text>
<text transform="translate(236.50,180.09) scale(1.585,1)" font-size="15.77">5</text>
<text transform="translate(269.95,208.69) scale(1.727,1)" font-size="16.48">6</text>
<path d="M304.85 225.65 L309.65 225.65 L309.65 235.95 L304.85 235.95 Z M305.15 225.65 L305.15 228.95 L301.65 230.28 L301.65 227.71 Z"/>
<path d="M315.55 225.65 L320.35 225.65 L320.35 235.95 L315.55 235.95 Z M315.85 225.65 L315.85 228.95 L312.35 230.28 L312.35 227.71 Z"/>
<path d="M336.97 253.05 L341.05 253.05 L341.05 263.65 L336.97 263.65 Z M337.27 253.05 L337.27 256.44 L334.25 257.82 L334.25 255.17 Z"/>
<text transform="translate(342.73,263.50) scale(1.954,1)" font-size="14.93">2</text>
<text transform="translate(525.35,222.57) scale(0.811,1)" font-size="17.61">2</text>
<text transform="translate(535.19,222.57) scale(0.811,1)" font-size="17.61">4</text>
<text transform="translate(172.57,310.10) scale(1.776,1)" font-size="15.35">3</text>
<text transform="translate(204.87,307.61) scale(1.792,1)" font-size="14.08">4</text>
<text transform="translate(35.82,309.79) scale(1.581,1)" font-size="15.92">7</text>
<text transform="translate(57.67,329.70) scale(1.700,1)" font-size="15.21">8</text>
<text transform="translate(84.76,353.70) scale(1.713,1)" font-size="14.93">9</text>
<path d="M113.97 366.15 L118.05 366.15 L118.05 377.45 L113.97 377.45 Z M114.27 366.15 L114.27 369.77 L111.25 371.23 L111.25 368.41 Z"/>
<text transform="translate(119.54,377.29) scale(1.905,1)" font-size="15.92">0</text>
<path d="M612.27 330.35 L616.35 330.35 L616.35 341.65 L612.27 341.65 Z M612.57 330.35 L612.57 333.97 L609.55 335.44 L609.55 332.61 Z"/>
<text transform="translate(618.67,341.49) scale(1.585,1)" font-size="15.92">4</text>
<path d="M582.97 396.35 L587.05 396.35 L587.05 406.65 L582.97 406.65 Z M583.27 396.35 L583.27 399.65 L580.25 400.99 L580.25 398.41 Z"/>
<text transform="translate(588.91,406.50) scale(1.930,1)" font-size="14.51">5</text>
<path d="M205.57 440.25 L209.65 440.25 L209.65 452.75 L205.57 452.75 Z M205.87 440.25 L205.87 444.25 L202.85 445.88 L202.85 442.75 Z"/>
<text transform="translate(211.80,452.57) scale(1.252,1)" font-size="17.61">3</text>
<text transform="translate(225.30,452.57) scale(1.252,1)" font-size="17.61">a</text>
<text transform="translate(649.01,459.99) scale(2.092,1)" font-size="15.63">2</text>
<path d="M671.27 449.05 L675.35 449.05 L675.35 460.15 L671.27 460.15 Z M671.57 449.05 L671.57 452.60 L668.55 454.05 L668.55 451.27 Z"/>
<text transform="translate(517.25,471.49) scale(1.730,1)" font-size="16.48">2</text>
<text transform="translate(533.92,471.49) scale(1.730,1)" font-size="16.48">3</text>
<path d="M215.67 474.65 L219.75 474.65 L219.75 484.75 L215.67 484.75 Z M215.97 474.65 L215.97 477.88 L212.95 479.19 L212.95 476.67 Z"/>
<text transform="translate(221.68,484.61) scale(2.159,1)" font-size="14.23">3</text>
<text transform="translate(649.19,490.10) scale(1.794,1)" font-size="15.35">2</text>
<text transform="translate(664.97,490.10) scale(1.794,1)" font-size="15.35">0</text>
<path d="M379.77 488.45 L383.85 488.45 L383.85 500.25 L379.77 500.25 Z M380.07 488.45 L380.07 492.23 L377.05 493.76 L377.05 490.81 Z"/>
<text transform="translate(385.51,500.08) scale(1.786,1)" font-size="16.62">6</text>
<path d="M652.87 510.25 L656.95 510.25 L656.95 520.55 L652.87 520.55 Z M653.17 510.25 L653.17 513.55 L650.15 514.88 L650.15 512.31 Z"/>
<text transform="translate(658.61,520.40) scale(2.047,1)" font-size="14.51">9</text>
<path d="M379.77 518.35 L383.85 518.35 L383.85 530.05 L379.77 530.05 Z M380.07 518.35 L380.07 522.09 L377.05 523.62 L377.05 520.69 Z"/>
<text transform="translate(385.16,529.89) scale(1.879,1)" font-size="16.48">7</text>
<text transform="translate(649.19,554.30) scale(1.810,1)" font-size="15.21">2</text>
<text transform="translate(664.97,554.30) scale(1.810,1)" font-size="15.21">0</text>
<path d="M449.47 560.75 L453.55 560.75 L453.55 572.25 L449.47 572.25 Z M449.77 560.75 L449.77 564.43 L446.75 565.92 L446.75 563.05 Z"/>
<text transform="translate(455.31,572.09) scale(1.933,1)" font-size="16.20">8</text>
<text transform="translate(649.24,583.39) scale(1.666,1)" font-size="15.63">2</text>
<text transform="translate(664.44,583.39) scale(1.666,1)" font-size="15.63">2</text>
</g>
<g id="title" fill="#111">
<text x="205" y="116.7" font-family="Liberation Sans, sans-serif" font-weight="bold" font-size="24.5" textLength="95" lengthAdjust="spacingAndGlyphs">Tav. 09</text>
<text x="310.3" y="116" font-family="Liberation Sans, sans-serif" font-size="22.8">–</text>
<text x="331.3" y="116.4" font-family="Liberation Sans, sans-serif" font-size="23.2">DESMO CAMBIO</text>
</g>
</svg>
</body></html>
